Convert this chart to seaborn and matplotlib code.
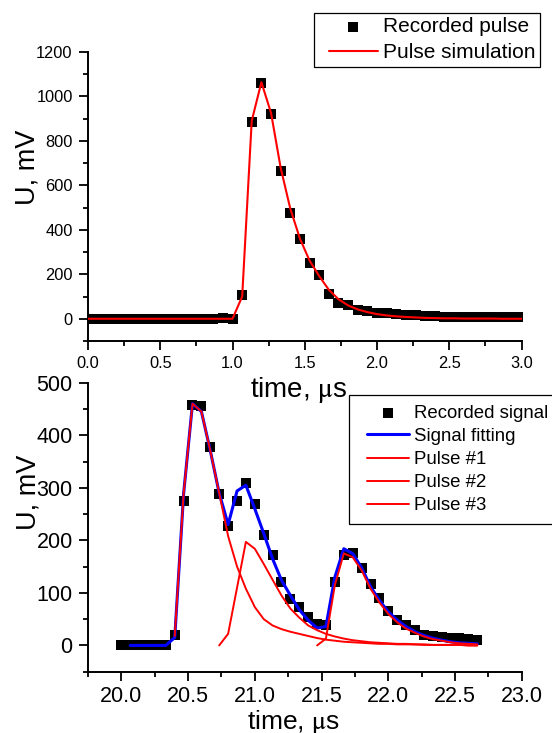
import matplotlib
matplotlib.use("Agg")
import matplotlib.pyplot as plt
import seaborn as sns
from matplotlib.ticker import MultipleLocator
from matplotlib.legend_handler import HandlerLine2D, HandlerPathCollection
from matplotlib.lines import Line2D
from matplotlib.collections import PathCollection

# ---- single pulse (upper panel) ----
t_pulse = [0.000, 0.067, 0.133, 0.200, 0.267, 0.333, 0.400, 0.467, 0.533, 0.600,
           0.667, 0.733, 0.800, 0.867, 0.933, 1.000, 1.067, 1.133, 1.200, 1.267,
           1.333, 1.400, 1.467, 1.533, 1.600, 1.667, 1.733, 1.800, 1.867, 1.933,
           2.000, 2.067, 2.133, 2.200, 2.267, 2.333, 2.400, 2.467, 2.533, 2.600,
           2.667, 2.733, 2.800, 2.867, 2.933, 3.000]
recorded_pulse = [0, 0, 0, 0, 0, 0, 0, 0, 0, 0,
                  0, 0, 0, 0, 2, 1, 105, 883, 1060, 922,
                  665, 474, 357, 252, 196, 111, 70, 60, 40, 33,
                  28, 24, 21, 17, 15, 12, 11, 10, 9, 8,
                  8, 7, 7, 6, 6, 6]
pulse_simulation = [0, 0, 0, 0, 0, 0, 0, 0, 0, 0,
                    0, 0, 0, 0, 0, 0, 100, 890, 1064, 925,
                    680, 495, 360, 262, 192, 130, 88, 60, 42, 30,
                    21, 15, 11, 8, 6, 4, 3, 2, 2, 1,
                    1, 1, 1, 0, 0, 0]

# ---- overlapping pulses (lower panel) ----
t_signal = [20.000, 20.067, 20.133, 20.200, 20.267, 20.333, 20.400, 20.467, 20.533, 20.600,
            20.667, 20.733, 20.800, 20.867, 20.933, 21.000, 21.067, 21.133, 21.200, 21.267,
            21.333, 21.400, 21.467, 21.533, 21.600, 21.667, 21.733, 21.800, 21.867, 21.933,
            22.000, 22.067, 22.133, 22.200, 22.267, 22.333, 22.400, 22.467, 22.533, 22.600,
            22.667]
recorded_signal = [0, 1, 1, 0, 0, 0, 19, 275, 458, 456,
                   377, 288, 227, 275, 310, 269, 210, 172, 121, 89,
                   73, 55, 41, 39, 121, 173, 175, 148, 116, 90,
                   65, 49, 38, 29, 19, 18, 16, 15, 14, 12,
                   10]
t_fit = t_signal[1:]
signal_fitting = [0, 0, 0, 0, 0, 15, 290, 460, 445, 370,
                  290, 230, 294, 305, 260, 213, 165, 124, 95, 68,
                  48, 33, 36, 130, 184, 175, 148, 112, 86, 64,
                  48, 36, 26, 19, 14, 10, 7, 5, 4, 3]
t_p1 = t_signal[6:]
pulse_1 = [18, 290, 460, 445, 370, 290, 208, 150, 108, 73,
           50, 38, 31, 26, 22, 18, 14, 11, 9, 7,
           6, 5, 4, 3, 3, 2, 2, 2, 1, 1,
           1, 1, 1, 0, 0]
t_p2 = t_signal[11:]
pulse_2 = [0, 22, 110, 197, 184, 155, 125, 95, 70, 53,
           38, 29, 22, 17, 13, 10, 8, 6, 5, 4,
           3, 3, 2, 2, 1, 1, 1, 1, 0, 0]
t_p3 = t_signal[22:]
pulse_3 = [0, 13, 115, 175, 168, 143, 108, 82, 60, 44,
           32, 24, 17, 12, 9, 6, 4, 3, 2]

sns.set_style("ticks", rc={"axes.edgecolor": "black", "xtick.color": "black",
                           "ytick.color": "black", "text.color": "black",
                           "axes.labelcolor": "black"})
plt.rcParams["font.family"] = ["Liberation Sans", "DejaVu Sans"]
plt.rcParams["mathtext.fontset"] = "stix"

W, H = 552, 733
fig = plt.figure(figsize=(W / 100, H / 100), dpi=100, facecolor="white")


def axes_px(left, top, right, bottom):
    ax = fig.add_axes([left / W, 1 - bottom / H, (right - left) / W, (bottom - top) / H])
    ax.set_facecolor("none")
    return ax


def style_axes(ax, labelsize):
    sns.despine(ax=ax)
    for side in ("left", "bottom"):
        ax.spines[side].set_linewidth(1.4)
        ax.spines[side].set_color("black")
    ax.tick_params(which="major", direction="out", length=6.5, width=1.3,
                   labelsize=labelsize, pad=4.5, color="black")
    ax.tick_params(which="minor", direction="out", length=3.5, width=1.3, color="black")
    ax.grid(False)


def pin_legend(leg, text_x, row_y):
    """Shift legend so its first label starts at text_x and its first row is centred on row_y (pixels from top)."""
    fig.canvas.draw()
    tb = leg.get_texts()[0].get_window_extent()
    fb = leg.get_frame().get_window_extent()
    dx = text_x - tb.x0
    dy = (H - row_y) - 0.5 * (tb.y0 + tb.y1)
    leg.set_bbox_to_anchor(((fb.x0 + dx) / W, (fb.y1 + dy) / H), transform=fig.transFigure)


handler_kw = lambda pad: {Line2D: HandlerLine2D(xpad=pad),
                          PathCollection: HandlerPathCollection(xpad=pad)}

# ================= upper panel =================
ax1 = axes_px(88, 52, 521.5, 341)
sns.scatterplot(x=t_pulse, y=recorded_pulse, marker="s", s=46, color="black",
                linewidth=0, ax=ax1, label="Recorded pulse", zorder=2)
sns.lineplot(x=t_pulse, y=pulse_simulation, color="red", linewidth=1.5, ax=ax1,
             label="Pulse simulation", estimator=None, sort=False, zorder=3)
ax1.set_xlim(0, 3)
ax1.set_ylim(-100, 1200)
ax1.xaxis.set_major_locator(MultipleLocator(0.5))
ax1.xaxis.set_minor_locator(MultipleLocator(0.25))
ax1.yaxis.set_major_locator(MultipleLocator(200))
ax1.yaxis.set_minor_locator(MultipleLocator(100))
style_axes(ax1, 11.8)
ax1.set_xlabel(r"time, $\mathrm{\mu}$s", fontsize=20)
ax1.xaxis.set_label_coords(0.485, -0.118)
ax1.set_ylabel("U, mV", fontsize=19.5)
ax1.yaxis.set_label_coords(-0.11, 0.6)

h1, l1 = ax1.get_legend_handles_labels()
leg1 = ax1.legend(h1, l1, loc="upper left", bbox_to_anchor=(311 / W, 1 - 10 / H),
                  bbox_transform=fig.transFigure, borderaxespad=0, fontsize=15,
                  frameon=True, fancybox=False, framealpha=1, edgecolor="black",
                  borderpad=0.22, labelspacing=0.34, handlelength=2.86,
                  handletextpad=0.24, scatterpoints=1, handler_map=handler_kw(0.51))
leg1.get_frame().set_linewidth(0.9)

# ================= lower panel =================
ax2 = axes_px(88, 382.7, 521.7, 671.7)
sns.scatterplot(x=t_signal, y=recorded_signal, marker="s", s=46, color="black",
                linewidth=0, ax=ax2, label="Recorded signal", zorder=2)
sns.lineplot(x=t_fit, y=signal_fitting, color="blue", linewidth=2.2, ax=ax2,
             label="Signal fitting", estimator=None, sort=False, zorder=3)
sns.lineplot(x=t_p1, y=pulse_1, color="red", linewidth=1.4, ax=ax2,
             label="Pulse #1", estimator=None, sort=False, zorder=4)
sns.lineplot(x=t_p2, y=pulse_2, color="red", linewidth=1.4, ax=ax2,
             label="Pulse #2", estimator=None, sort=False, zorder=4)
sns.lineplot(x=t_p3, y=pulse_3, color="red", linewidth=1.4, ax=ax2,
             label="Pulse #3", estimator=None, sort=False, zorder=4)
ax2.set_xlim(19.75, 23.0)
ax2.set_ylim(-50, 500)
ax2.xaxis.set_major_locator(MultipleLocator(0.5))
ax2.xaxis.set_minor_locator(MultipleLocator(0.25))
ax2.yaxis.set_major_locator(MultipleLocator(100))
ax2.yaxis.set_minor_locator(MultipleLocator(50))
style_axes(ax2, 15.5)
ax2.tick_params(axis="x", which="major", pad=3.5)
ax2.set_xlabel(r"time, $\mathrm{\mu}$s", fontsize=19)
ax2.xaxis.set_label_coords(0.473, -0.126)
ax2.set_ylabel("U, mV", fontsize=19.5)
ax2.yaxis.set_label_coords(-0.107, 0.62)

h2, l2 = ax2.get_legend_handles_labels()
leg2 = ax2.legend(h2, l2, loc="upper left", bbox_to_anchor=(348.7 / W, 1 - 389.3 / H),
                  bbox_transform=fig.transFigure, borderaxespad=0, fontsize=13.4,
                  frameon=True, fancybox=False, framealpha=1, edgecolor="black",
                  borderpad=0.5, labelspacing=0.33, handlelength=2.76,
                  handletextpad=0.27, scatterpoints=1, handler_map=handler_kw(0.47))
leg2.get_frame().set_linewidth(0.9)

pin_legend(leg1, 382.7, 26.7)
pin_legend(leg2, 414.3, 413.3)

fig.savefig("out.png", dpi=100, facecolor="white")
